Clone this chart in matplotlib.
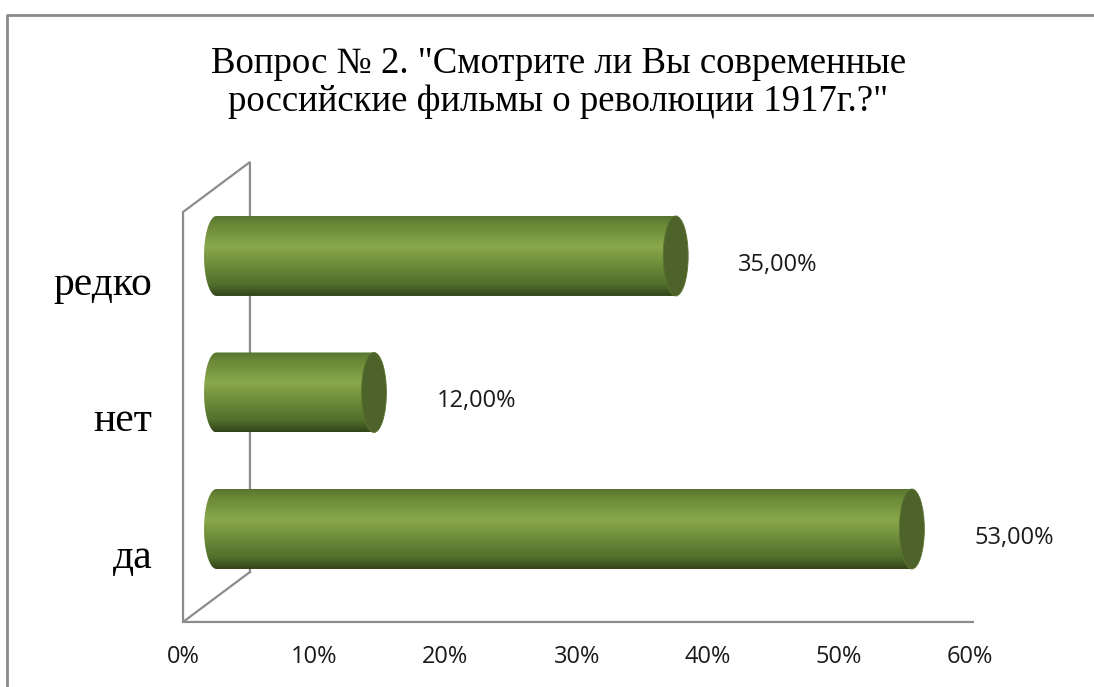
import numpy as np
import matplotlib.pyplot as plt
from matplotlib.patches import Ellipse, PathPatch
from matplotlib.path import Path
from matplotlib.colors import LinearSegmentedColormap

# data
categories = ['да', 'нет', 'редко']
values = [53.0, 12.0, 35.0]
value_labels = ['53,00%', '12,00%', '35,00%']
xticks = [0, 10, 20, 30, 40, 50, 60]
xtick_labels = ['0%', '10%', '20%', '30%', '40%', '50%', '60%']
title = 'Вопрос № 2. "Смотрите ли Вы современные\nроссийские фильмы о революции 1917г.?"'

# look of the fake 3d box
BAR_H = 0.586          # cylinder height in category units
CAP_W = 1.9            # cap ellipse width in % units
BAR_DX = 2.55          # depth shift of bars
BACK_DX, BACK_DY = 5.1, 0.366
FLOOR_Y, TOP_Y = -0.681, 2.322
LABEL_DROP = 0.285
FRAME = '#8c8c8c'
CAP = '#4e6329'

body = LinearSegmentedColormap.from_list('cyl', [
    (0.0, '#587530'), (0.12, '#6c8a38'), (0.38, '#8aa84b'),
    (0.62, '#6e8b3a'), (0.85, '#52702b'), (1.0, '#33441a')])

fig = plt.figure(figsize=(10.94, 6.87), dpi=100)
ax = fig.add_axes([0, 0, 1, 1])
ax.axis('off')

# outer chart border (cut at right/bottom like the screenshot)
fig.add_artist(plt.Line2D([0.0064, 0.0064, 1.0], [0.0, 0.978, 0.978],
                          transform=fig.transFigure, color='#8a8a8a', lw=2))

# 3d wall / floor lines
ax.plot([0, 0, BACK_DX, BACK_DX], [FLOOR_Y, TOP_Y, TOP_Y + BACK_DY, FLOOR_Y + BACK_DY],
        color=FRAME, lw=1.6, solid_joinstyle='miter')
ax.plot([BACK_DX, 0, 60.2], [FLOOR_Y + BACK_DY, FLOOR_Y, FLOOR_Y], color=FRAME, lw=1.6)

grad = np.linspace(0, 1, 256).reshape(-1, 1)
t = np.linspace(np.pi / 2, 3 * np.pi / 2, 60)
for i, (v, lab) in enumerate(zip(values, value_labels)):
    x0, x1 = BAR_DX, BAR_DX + v
    y0, y1 = i - BAR_H / 2, i + BAR_H / 2
    # body outline: flat top/bottom, rounded left end
    xs = np.concatenate([[x1], x0 + CAP_W / 2 * np.cos(t), [x1]])
    ys = np.concatenate([[y1], i + BAR_H / 2 * np.sin(t), [y0]])
    path = Path(np.column_stack([xs, ys]))
    patch = PathPatch(path, facecolor='none', edgecolor='none')
    ax.add_patch(patch)
    im = ax.imshow(grad, cmap=body, aspect='auto', extent=[x0 - CAP_W, x1, y0, y1],
                   interpolation='bilinear', zorder=2)
    im.set_clip_path(patch)
    ax.add_patch(Ellipse((x1, i), CAP_W, BAR_H, facecolor=CAP, edgecolor='#5c7532',
                         lw=0.6, zorder=3))
    ax.annotate(lab, (x1 + CAP_W / 2, i), xytext=(50, -9), textcoords='offset pixels',
                ha='left', va='center', fontsize=17, family='Open Sans', color='#1a1a1a')

for i, c in enumerate(categories):
    ax.text(-2.35, i - LABEL_DROP, c, ha='right', va='baseline', fontsize=30,
            family='Liberation Serif')

for x, s in zip(xticks, xtick_labels):
    ax.text(x, FLOOR_Y - 0.26, s, ha='center', va='center', fontsize=17,
            family='Open Sans', color='#1a1a1a')

ax.text(28.6, 3.062, title, ha='center', va='baseline', fontsize=26.5,
        family='Liberation Serif', linespacing=1.14)

ax.set_xlim(-13.95, 69.43)
ax.set_ylim(-1.1575, 3.875)
fig.savefig('out.png', dpi=100)
